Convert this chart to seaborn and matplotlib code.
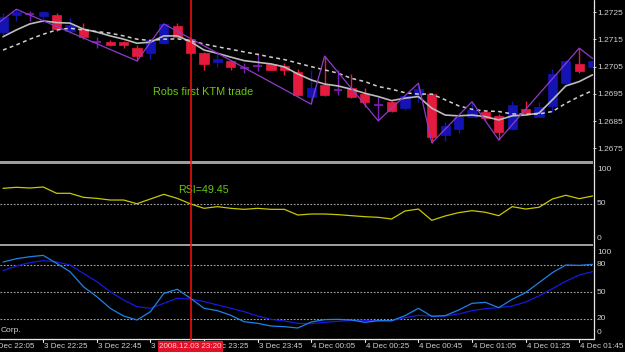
import matplotlib
matplotlib.use("Agg")
import matplotlib.pyplot as plt
import matplotlib.transforms as mtransforms
from matplotlib.lines import Line2D
from matplotlib.patches import Rectangle
import pandas as pd
import seaborn as sns

# ---------------- data (5-minute bars, 3 Dec 22:10 .. 4 Dec 01:50) ----------------
bars = list(range(45))
opens = [1.27179, 1.27239, 1.27242, 1.27237, 1.27240, 1.27182, 1.27189, 1.27142, 1.27142, 1.27142,
         1.27120, 1.27099, 1.27138, 1.27200, 1.27151, 1.27101, 1.27067, 1.27071, 1.27044, 1.27054,
         1.27060, 1.27054, 1.27032, 1.26937, 1.26983, 1.26964, 1.26971, 1.26950, 1.26909, 1.26921,
         1.26899, 1.26946, 1.26950, 1.26799, 1.26820, 1.26866, 1.26882, 1.26870, 1.26820, 1.26893,
         1.26866, 1.26906, 1.26990, 1.27060, 1.27050]
highs = [1.27246, 1.27261, 1.27255, 1.27256, 1.27249, 1.27228, 1.27210, 1.27158, 1.27149, 1.27145,
         1.27130, 1.27153, 1.27207, 1.27210, 1.27155, 1.27105, 1.27101, 1.27074, 1.27062, 1.27101,
         1.27062, 1.27062, 1.27040, 1.27038, 1.27089, 1.27038, 1.27023, 1.26971, 1.26940, 1.26925,
         1.26947, 1.26989, 1.26952, 1.26848, 1.26870, 1.26921, 1.26890, 1.26874, 1.26922, 1.26924,
         1.26921, 1.27040, 1.27074, 1.27118, 1.27074]
lows = [1.27166, 1.27219, 1.27219, 1.27210, 1.27182, 1.27175, 1.27150, 1.27118, 1.27127, 1.27118,
        1.27071, 1.27077, 1.27135, 1.27155, 1.27095, 1.27038, 1.27050, 1.27038, 1.27028, 1.27034,
        1.27036, 1.27019, 1.26943, 1.26912, 1.26943, 1.26946, 1.26935, 1.26901, 1.26851, 1.26885,
        1.26890, 1.26921, 1.26770, 1.26778, 1.26807, 1.26864, 1.26855, 1.26780, 1.26816, 1.26878,
        1.26864, 1.26885, 1.26987, 1.27028, 1.27044]
closes = [1.27234, 1.27251, 1.27242, 1.27250, 1.27188, 1.27202, 1.27158, 1.27142, 1.27130, 1.27130,
          1.27090, 1.27148, 1.27205, 1.27158, 1.27099, 1.27059, 1.27079, 1.27050, 1.27044, 1.27054,
          1.27038, 1.27038, 1.26946, 1.26971, 1.26946, 1.26964, 1.26937, 1.26919, 1.26909, 1.26888,
          1.26942, 1.26967, 1.26790, 1.26832, 1.26866, 1.26891, 1.26860, 1.26811, 1.26909, 1.26881,
          1.26901, 1.27023, 1.27071, 1.27035, 1.27071]

ma_fast = [1.27160, 1.27185, 1.27207, 1.27218, 1.27212, 1.27210, 1.27188, 1.27177, 1.27163, 1.27151,
           1.27136, 1.27140, 1.27163, 1.27163, 1.27142, 1.27111, 1.27099, 1.27085, 1.27072, 1.27066,
           1.27060, 1.27049, 1.27023, 1.27001, 1.26986, 1.26979, 1.26967, 1.26952, 1.26940, 1.26925,
           1.26934, 1.26940, 1.26897, 1.26872, 1.26869, 1.26872, 1.26866, 1.26854, 1.26869, 1.26872,
           1.26879, 1.26928, 1.26979, 1.26995, 1.27020]
ma_slow = [1.27111, 1.27130, 1.27151, 1.27169, 1.27185, 1.27191, 1.27185, 1.27179, 1.27173, 1.27163,
           1.27151, 1.27146, 1.27151, 1.27152, 1.27146, 1.27133, 1.27123, 1.27114, 1.27104, 1.27095,
           1.27085, 1.27076, 1.27063, 1.27050, 1.27038, 1.27026, 1.27007, 1.26995, 1.26977, 1.26967,
           1.26954, 1.26949, 1.26949, 1.26928, 1.26906, 1.26893, 1.26887, 1.26885, 1.26876, 1.26875,
           1.26876, 1.26885, 1.26915, 1.26940, 1.26962]

zz_bars = [-1, 1, 10, 12, 23, 24, 28, 31, 32, 35, 37, 43, 44]
zz_vals = [1.27186, 1.27261, 1.27071, 1.27207, 1.26912, 1.27089, 1.26851, 1.26989, 1.26770,
           1.26921, 1.26780, 1.27118, 1.27080]

rsi = [69.2, 70.5, 69.6, 70.9, 62.9, 62.9, 57.8, 56.5, 54.4, 54.4, 49.7, 55.7, 61.6, 56.5, 49.5,
       43.9, 46.0, 43.9, 42.6, 43.9, 42.6, 42.6, 35.4, 36.7, 36.7, 35.9, 34.6, 33.3, 32.5, 30.4,
       40.5, 43.0, 28.7, 34.2, 38.4, 40.9, 38.9, 34.6, 46.0, 43.0, 45.2, 55.7, 60.4, 56.1, 59.5]

stoch_k = [83.3, 87.0, 89.2, 90.7, 81.9, 72.6, 55.9, 44.8, 31.9, 23.3, 18.9, 28.1, 48.5, 53.0, 43.0,
           31.9, 29.3, 24.1, 17.0, 15.2, 12.2, 11.5, 10.0, 16.7, 19.3, 19.6, 18.9, 16.3, 18.1, 18.1,
           23.7, 31.9, 23.0, 23.7, 30.0, 37.4, 38.5, 32.6, 41.9, 49.3, 60.4, 71.5, 80.0, 79.6, 80.7]
stoch_d = [73.7, 78.9, 82.6, 84.8, 83.3, 80.0, 70.7, 61.5, 50.4, 41.1, 33.7, 31.9, 37.4, 43.0, 42.2,
           39.3, 35.6, 31.9, 28.1, 23.3, 19.6, 17.8, 15.2, 14.8, 16.3, 17.4, 18.5, 18.5, 18.1, 18.1,
           21.5, 24.1, 23.3, 23.3, 25.6, 29.3, 31.5, 32.6, 34.4, 38.9, 45.6, 53.7, 61.9, 68.9, 72.6]

price_ticks = [1.2675, 1.2685, 1.2695, 1.2705, 1.2715, 1.2725]
price_labels = ["1.2675", "1.2685", "1.2695", "1.2705", "1.2715", "1.2725"]
rsi_ticks = [100, 50, 0]
rsi_labels = ["100", "50", "0"]
sto_ticks = [100, 80, 50, 20, 0]
sto_labels = ["100", "80", "50", "20", "0"]
time_bars = [-1, 3, 7, 11, 15, 19, 23, 27, 31, 35, 39, 43]
time_labels = ["3 Dec 22:05", "3 Dec 22:25", "3 Dec 22:45", "3 Dec 23:05", "3 Dec 23:25",
               "3 Dec 23:45", "4 Dec 00:05", "4 Dec 00:25", "4 Dec 00:45", "4 Dec 01:05",
               "4 Dec 01:25", "4 Dec 01:45"]
marker_bar = 14
marker_label = "2008.12.03 23:20"
note_text = "Robs first KTM trade"
note_pos = (11.2, 1.26955)
rsi_text = "RSI=49.45"
rsi_text_pos = (13.05, 66.5)

# ---------------- style ----------------
sns.set_style("dark")
plt.rcParams.update({
    "figure.facecolor": "black",
    "axes.facecolor": "black",
    "savefig.facecolor": "black",
    "axes.grid": False,
})
plt.rcParams["font.family"] = ["Liberation Sans", "DejaVu Sans"]

W, H = 625, 352
fig = plt.figure(figsize=(W / 100, H / 100), dpi=100)


def rect(top, bottom, left=0, right=593):
    return [left / W, 1 - bottom / H, (right - left) / W, (bottom - top) / H]


ax_main = fig.add_axes(rect(0, 161))
ax_rsi = fig.add_axes(rect(164, 243), sharex=ax_main)
ax_sto = fig.add_axes(rect(247, 337), sharex=ax_main)

TXT = "#d0d0d0"
for ax in (ax_main, ax_rsi, ax_sto):
    ax.set_facecolor("black")
    for s in ax.spines.values():
        s.set_visible(False)
    ax.tick_params(axis="x", bottom=False, labelbottom=False)
    ax.grid(False)
    ax.set_xlabel("")
    ax.set_ylabel("")

ax_main.set_xlim(-0.224, 44.03)

# ---------------- main: candles ----------------
df = pd.DataFrame({"bar": bars, "open": opens, "high": highs, "low": lows, "close": closes,
                   "ma_fast": ma_fast, "ma_slow": ma_slow})
BULL, BEAR, DOJI = "#1414b4", "#e41a3e", "#7a1eb4"
for b, o, h, l, c in zip(bars, opens, highs, lows, closes):
    if abs(c - o) < 1e-6:
        col = DOJI
        ax_main.vlines(b, l, h, color=col, lw=1.0, zorder=2)
        ax_main.hlines(o, b - 0.33, b + 0.33, color=col, lw=1.3, zorder=2)
        continue
    col = BULL if c > o else BEAR
    ax_main.vlines(b, l, h, color=col, lw=1.0, zorder=2)
    ax_main.bar(b, abs(c - o), bottom=min(o, c), width=0.68, color=col,
                edgecolor=col, lw=0.5, zorder=2.5)

sns.lineplot(data=df, x="bar", y="ma_fast", ax=ax_main, color="#bcbcbc", lw=1.2, zorder=3)
sns.lineplot(data=df, x="bar", y="ma_slow", ax=ax_main, color="#d0d0d0", lw=1.1,
             linestyle=(0, (2.5, 2.2)), zorder=3)
sns.lineplot(x=zz_bars, y=zz_vals, ax=ax_main, color="#8e3cc8", lw=0.9, zorder=4)

ax_main.set_ylim(1.26703, 1.27295)
ax_main.yaxis.tick_right()
ax_main.set_yticks(price_ticks)
ax_main.set_yticklabels(price_labels)
ax_main.tick_params(axis="y", colors=TXT, labelcolor=TXT, labelsize=6, length=2, width=0.7,
                    pad=1.2, right=True, left=False, labelright=True, labelleft=False)
ax_main.set_xlabel("")
ax_main.set_ylabel("")

ax_main.text(note_pos[0], note_pos[1], note_text, color="#68c814", fontsize=7.8,
             ha="left", va="center", zorder=5)

# ---------------- RSI ----------------
rsi_df = pd.DataFrame({"bar": bars, "rsi": rsi})
ax_rsi.axhline(50, color="#a8a8a8", lw=0.8, linestyle=(0, (1.5, 1.5)), zorder=1)
sns.lineplot(data=rsi_df, x="bar", y="rsi", ax=ax_rsi, color="#c8c800", lw=0.9, zorder=3)
ax_rsi.set_ylim(0, 100)
ax_rsi.set_yticks([])
ax_rsi.set_xlabel("")
ax_rsi.set_ylabel("")
ax_rsi.text(rsi_text_pos[0], rsi_text_pos[1], rsi_text, color="#68c814", fontsize=7.7,
            ha="left", va="center", zorder=5)
rsi_shift = {100: -6, 50: 0, 0: 5}
for v, lab in zip(rsi_ticks, rsi_labels):
    ax_rsi.annotate(lab, xy=(1, v), xycoords=("axes fraction", "data"),
                    xytext=(2.9, rsi_shift[v] * 0.72), textcoords="offset points",
                    color=TXT, fontsize=6, ha="left", va="center", annotation_clip=False)

# ---------------- Stochastic ----------------
sto_df = pd.DataFrame({"bar": bars, "k": stoch_k, "d": stoch_d})
for lvl in (80, 50, 20):
    ax_sto.axhline(lvl, color="#a8a8a8", lw=0.8, linestyle=(0, (1.5, 1.5)), zorder=1)
sns.lineplot(data=sto_df, x="bar", y="d", ax=ax_sto, color="#1818e0", lw=0.9, zorder=3)
sns.lineplot(data=sto_df, x="bar", y="k", ax=ax_sto, color="#1e82e6", lw=0.9, zorder=3)
ax_sto.set_ylim(0, 100)
ax_sto.set_yticks([])
ax_sto.set_xlabel("")
ax_sto.set_ylabel("")
sto_shift = {100: -5, 80: 0, 50: 0, 20: 0, 0: 5}
for v, lab in zip(sto_ticks, sto_labels):
    ax_sto.annotate(lab, xy=(1, v), xycoords=("axes fraction", "data"),
                    xytext=(2.9, sto_shift[v] * 0.72), textcoords="offset points",
                    color=TXT, fontsize=6, ha="left", va="center", annotation_clip=False)

ax_main.set_xlim(-0.224, 44.03)

# ---------------- frame: separators, axis lines ----------------
fig.add_artist(Rectangle((0, 1 - 164 / H), 593 / W, 2.5 / H, transform=fig.transFigure,
                         facecolor="#9c9c9c", edgecolor="none", zorder=2))
fig.add_artist(Rectangle((0, 1 - 246 / H), 593 / W, 2.5 / H, transform=fig.transFigure,
                         facecolor="#9c9c9c", edgecolor="none", zorder=2))
fig.add_artist(Line2D([593.5 / W, 593.5 / W], [1 - 338.5 / H, 1], transform=fig.transFigure,
                      color="#e8e8e8", lw=0.9, zorder=3))
fig.add_artist(Line2D([0, 593.5 / W], [1 - 338.5 / H, 1 - 338.5 / H], transform=fig.transFigure,
                      color="#e8e8e8", lw=0.9, zorder=3))

bt = mtransforms.blended_transform_factory(ax_sto.transData, fig.transFigure)
for b, lab in zip(time_bars, time_labels):
    fig.add_artist(Line2D([b, b], [1 - 338.5 / H, 1 - 341.5 / H], transform=bt,
                          color="#e8e8e8", lw=0.8, zorder=3))
    t = fig.text(b, 1 - 346.5 / H, lab, transform=bt, color=TXT, fontsize=5.8,
                 ha="left", va="center", zorder=3)
    t.set_x(b + 0.08)

fig.text(1 / W, 1 - 330 / H, "Corp.", color=TXT, fontsize=6, ha="left", va="center", zorder=3)

# vertical marker line and its time label
fig.add_artist(Line2D([marker_bar, marker_bar], [1 - 342 / H, 1], transform=bt,
                      color="#ff1212", lw=1.1, zorder=6))
fig.text(marker_bar, 1 - 346.5 / H, marker_label, transform=bt, color="#ffd8d8", fontsize=5.8,
         ha="center", va="center", zorder=7,
         bbox=dict(boxstyle="square,pad=0.2", facecolor="#e01028", edgecolor="none"))

fig.savefig("out.png", dpi=100, facecolor="black")
